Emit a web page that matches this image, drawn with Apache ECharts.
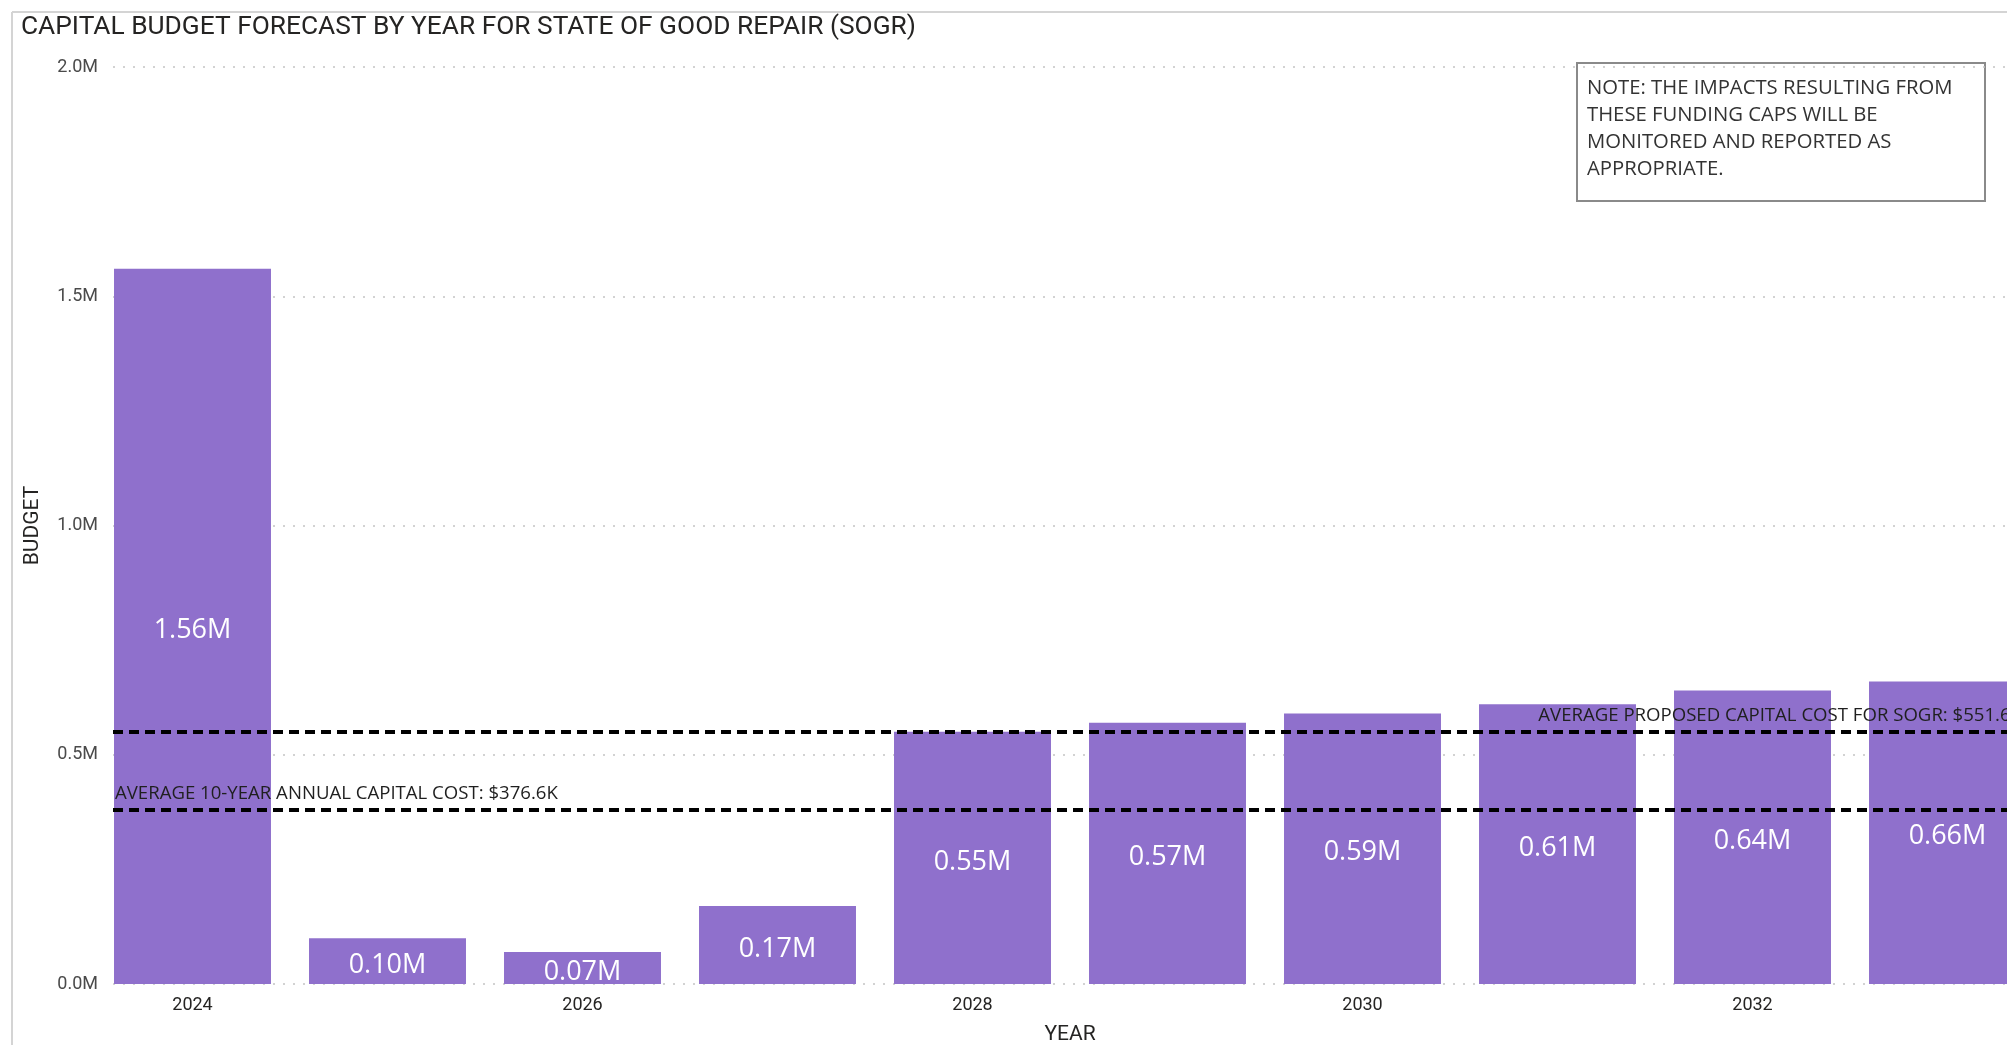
<!DOCTYPE html>
<html>
<head>
<meta charset="utf-8">
<script src="https://cdn.jsdelivr.net/npm/echarts@6/dist/echarts.min.js"></script>
<style>
  html, body { margin: 0; padding: 0; background: #ffffff; }
  #chart { width: 2007px; height: 1045px; }
</style>
</head>
<body>
<div id="chart"></div>
<script>
// Capital budget forecast for State of Good Repair, in millions of dollars
const years = ['2024', '2025', '2026', '2027', '2028', '2029', '2030', '2031', '2032', '2033'];
const budgetM = [1.56, 0.10, 0.07, 0.17, 0.55, 0.57, 0.59, 0.61, 0.64, 0.66];

// Reference lines (millions)
const avgTenYearAnnualM = 0.3766;
const avgProposedSogrM = 0.5516;

// Value axis ticks (millions)
const yMin = 0;
const yMax = 2.0;
const yStep = 0.5;

const titleText = 'CAPITAL BUDGET FORECAST BY YEAR FOR STATE OF GOOD REPAIR (SOGR)';
const noteLines = [
  'NOTE: THE IMPACTS RESULTING FROM',
  'THESE FUNDING CAPS WILL BE',
  'MONITORED AND REPORTED AS',
  'APPROPRIATE.'
];

const toK = v => '$' + (v * 1000).toFixed(1) + 'K';

const chart = echarts.init(document.getElementById('chart'), null, { renderer: 'canvas' });

const dashLine = { color: '#000000', type: [10, 6], width: 4 };
const lineLabelFont = { fontFamily: 'Open Sans', fontSize: 18.6, color: '#1f1f1f' };

// The plot runs past the right edge of the canvas, so the last bar is cut off.
const option = {
  backgroundColor: '#ffffff',
  animation: false,
  grid: [
    // plot frame that carries gridlines, value labels and reference lines
    { left: 113, width: 1932, top: 67, bottom: 61, outerBoundsMode: 'none', containLabel: false },
    // category band for the bars
    { left: 95, width: 1950, top: 67, bottom: 61, outerBoundsMode: 'none', containLabel: false }
  ],
  xAxis: [
    { gridIndex: 0, type: 'category', data: years, show: false },
    {
      gridIndex: 1, type: 'category', data: years,
      axisLine: { show: false }, axisTick: { show: false },
      axisLabel: { interval: 1, margin: 12, fontFamily: 'Roboto', fontSize: 18, color: '#252423' },
      name: 'YEAR', nameLocation: 'middle', nameGap: 40,
      nameTextStyle: { fontFamily: 'Roboto', fontSize: 21, color: '#252423' }
    }
  ],
  yAxis: [
    {
      gridIndex: 0, type: 'value', min: yMin, max: yMax, interval: yStep,
      axisLine: { show: false }, axisTick: { show: false },
      axisLabel: {
        margin: 15, fontFamily: 'Roboto', fontSize: 18, color: '#4a4a4a',
        formatter: v => v.toFixed(1) + 'M'
      },
      splitLine: { show: true, lineStyle: { color: '#c4c4c4', width: 1.5, type: [2, 8] } },
      name: 'BUDGET', nameLocation: 'middle', nameGap: 70,
      nameTextStyle: { fontFamily: 'Roboto', fontSize: 21, color: '#252423' }
    },
    {
      gridIndex: 1, type: 'value', min: yMin, max: yMax, interval: yStep, show: false,
      splitLine: { show: false }
    }
  ],
  series: [
    {
      type: 'bar',
      xAxisIndex: 1, yAxisIndex: 1,
      data: budgetM,
      barCategoryGap: '19.5%',
      itemStyle: { color: '#8f70cc' },
      label: {
        show: true, position: 'inside', offset: [0, 4],
        fontFamily: 'Open Sans', fontSize: 27, color: '#ffffff',
        formatter: p => p.value.toFixed(2) + 'M'
      },
      silent: true
    },
    {
      type: 'line',
      xAxisIndex: 0, yAxisIndex: 0,
      data: years.map(() => null),
      symbol: 'none',
      silent: true,
      markLine: {
        silent: true,
        symbol: ['none', 'none'],
        lineStyle: dashLine,
        data: [
          {
            yAxis: avgProposedSogrM,
            label: Object.assign({
              show: true, position: 'insideEndTop', distance: [23, 7],
              formatter: () => 'AVERAGE PROPOSED CAPITAL COST FOR SOGR: ' + toK(avgProposedSogrM)
            }, lineLabelFont)
          },
          {
            yAxis: avgTenYearAnnualM,
            label: Object.assign({
              show: true, position: 'insideStartTop', distance: [2, 7],
              formatter: () => 'AVERAGE 10-YEAR ANNUAL CAPITAL COST: ' + toK(avgTenYearAnnualM)
            }, lineLabelFont)
          }
        ]
      }
    }
  ],
  graphic: [
    // visual frame edges
    { type: 'line', shape: { x1: 12, y1: 12, x2: 2007, y2: 12 }, style: { stroke: '#d4d4d4', lineWidth: 2 }, silent: true },
    { type: 'line', shape: { x1: 12, y1: 12, x2: 12, y2: 1045 }, style: { stroke: '#d4d4d4', lineWidth: 2 }, silent: true },
    {
      type: 'text', left: 21, top: 14, silent: true,
      style: { text: titleText, font: '26.3px Roboto', fill: '#252423' }
    },
    // note box
    {
      type: 'group', left: 1576, top: 62, silent: true, z: 100,
      children: [
        { type: 'rect', shape: { x: 0, y: 0, width: 408, height: 138 }, style: { fill: '#ffffff', stroke: '#8a8a8a', lineWidth: 2 } },
        {
          type: 'text', x: 10, y: 12,
          style: { text: noteLines.join('\n'), font: '20.3px "Open Sans"', lineHeight: 27, fill: '#333333' }
        }
      ]
    }
  ]
};

chart.setOption(option);
</script>
</body>
</html>
